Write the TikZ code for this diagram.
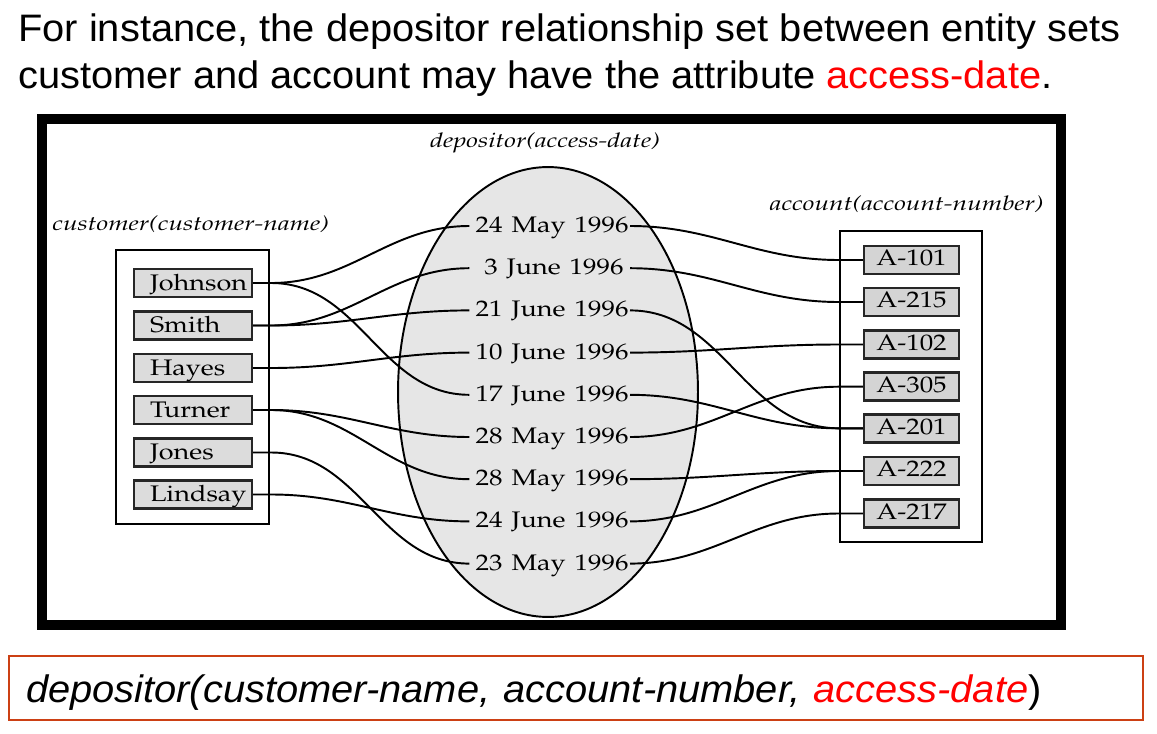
\documentclass[tikz,border=0pt]{standalone}
\usepackage[T1]{fontenc}
\usepackage{fontspec}
\usepackage{graphicx}
\usetikzlibrary{shapes.geometric}

\newfontfamily\slidefont{Liberation Sans}
\newcommand\palfont{\fontencoding{T1}\fontfamily{ppl}\selectfont}
% horizontally widened text
\newcommand\wup[1]{\scalebox{1.2}[1]{#1}}
\newcommand\wit[1]{\scalebox{1.3}[1]{#1}}
\newcommand\wsl[1]{\scalebox{1.04}[1]{#1}}
\newcommand\nm[1]{\hspace*{0.32cm}\wup{#1}}

\definecolor{accred}{RGB}{255,0,0}
\definecolor{boxred}{RGB}{204,64,20}
\definecolor{namefill}{RGB}{220,220,220}
\definecolor{acctfill}{RGB}{212,212,212}
\definecolor{setfill}{RGB}{230,230,230}

\begin{document}
\begin{tikzpicture}[x=0.02cm, y=-0.02cm,
  link/.style={line width=1.1pt, black},
  container/.style={draw=black, line width=1pt},
  namebox/.style={draw=black!85, line width=1.4pt, fill=namefill,
    minimum height=0.56cm, inner xsep=0pt, inner ysep=0pt,
    text width=2.36cm, align=left, text height=8pt, text depth=0pt,
    font={\palfont\fontsize{12.8}{15}\selectfont}},
  acctbox/.style={draw=black!85, line width=1.4pt, fill=acctfill,
    minimum width=1.9cm, minimum height=0.56cm, inner sep=0pt,
    text height=6.8pt, text depth=0pt,
    font={\palfont\fontsize{12.8}{15}\selectfont}},
  datelbl/.style={inner xsep=0.12cm, inner ysep=0pt, text width=2.96cm,
    align=right, text height=7.4pt, text depth=0pt,
    font={\palfont\fontsize{12.8}{15}\selectfont}},
  setlbl/.style={inner sep=0pt, font={\palfont\itshape\fontsize{11.5}{14}\selectfont}},
  slide/.style={inner sep=0pt, font={\slidefont\fontsize{21.8}{26}\selectfont}}
]
\useasboundingbox (0,0) rectangle (1157,734);

% heading
\node[slide, anchor=base west] (t1) at (18,41)
  {\wsl{For instance, the depositor relationship set between entity sets}};
\node[slide, anchor=base west] (t2) at (18,88)
  {\wsl{customer and account may have the attribute \textcolor{accred}{access-date}.}};

% heavy frame
\draw[line width=6.25pt] (42,119) rectangle (1061,625);

% relationship set
\node[ellipse, draw, line width=1.1pt, fill=setfill, inner sep=0pt,
  minimum width=6cm, minimum height=9cm] (depset) at (548,392) {};
\node[setlbl, anchor=base] (deplbl) at (545,147) {\wit{depositor(access-date)}};

% entity set containers
\draw[container] (116,250) rectangle (269,524);
\draw[container] (840,231) rectangle (982,542);
\node[setlbl, anchor=base west] (custlbl) at (52,230) {\wit{customer(customer-name)}};
\node[setlbl, anchor=base east] (acctlbl) at (1044,210) {\wit{account(account-number)}};

% customers
\node[namebox] (c1) at (193,283)   {\nm{Johnson}};
\node[namebox] (c2) at (193,325.5) {\nm{Smith}};
\node[namebox] (c3) at (193,368)   {\nm{Hayes}};
\node[namebox] (c4) at (193,410)   {\nm{Turner}};
\node[namebox] (c5) at (193,452.5) {\nm{Jones}};
\node[namebox] (c6) at (193,494.5) {\nm{Lindsay}};

% access dates
\node[datelbl, anchor=east] (d1) at (630,226)   {\wup{24 May 1996}};
\node[datelbl, anchor=east] (d2) at (630,268.2) {\wup{3 June 1996}};
\node[datelbl, anchor=east] (d3) at (630,310.4) {\wup{21 June 1996}};
\node[datelbl, anchor=east] (d4) at (630,352.6) {\wup{10 June 1996}};
\node[datelbl, anchor=east] (d5) at (630,394.8) {\wup{17 June 1996}};
\node[datelbl, anchor=east] (d6) at (630,437)   {\wup{28 May 1996}};
\node[datelbl, anchor=east] (d7) at (630,479.2) {\wup{28 May 1996}};
\node[datelbl, anchor=east] (d8) at (630,521.4) {\wup{24 June 1996}};
\node[datelbl, anchor=east] (d9) at (630,563.6) {\wup{23 May 1996}};

% accounts
\node[acctbox] (a1) at (911.5,260)   {\wup{A-101}};
\node[acctbox] (a2) at (911.5,302)   {\wup{A-215}};
\node[acctbox] (a3) at (911.5,344.5) {\wup{A-102}};
\node[acctbox] (a4) at (911.5,386.7) {\wup{A-305}};
\node[acctbox] (a5) at (911.5,428.3) {\wup{A-201}};
\node[acctbox] (a6) at (911.5,471)   {\wup{A-222}};
\node[acctbox] (a7) at (911.5,513.5) {\wup{A-217}};

% customer -- date
\foreach \c/\d in {c1/d1, c1/d5, c2/d2, c2/d3, c3/d4, c4/d6, c4/d7, c5/d9, c6/d8}
  \draw[link] (\c.east) -- ([xshift=0.36cm]\c.east) to[out=0,in=180] (\d.west);

% date -- account
\foreach \d/\a in {d1/a1, d2/a2, d3/a5, d4/a3, d5/a5, d6/a4, d7/a6, d8/a6, d9/a7}
  \draw[link] (\d.east) to[out=0,in=180] ([xshift=-0.48cm]\a.west) -- (\a.west);

% schema line
\node[draw=boxred, line width=1.4pt, minimum width=22.68cm, minimum height=1.28cm,
  inner xsep=0.34cm, inner ysep=0pt, text width=22.0cm, align=left,
  text height=17pt, text depth=0pt,
  font={\slidefont\itshape\fontsize{21.8}{26}\selectfont}] (schema) at (576,688)
  {\wsl{depositor(customer-name, account-number, \textcolor{accred}{access-date}}\wsl{\upshape)}};
\end{tikzpicture}
\end{document}
